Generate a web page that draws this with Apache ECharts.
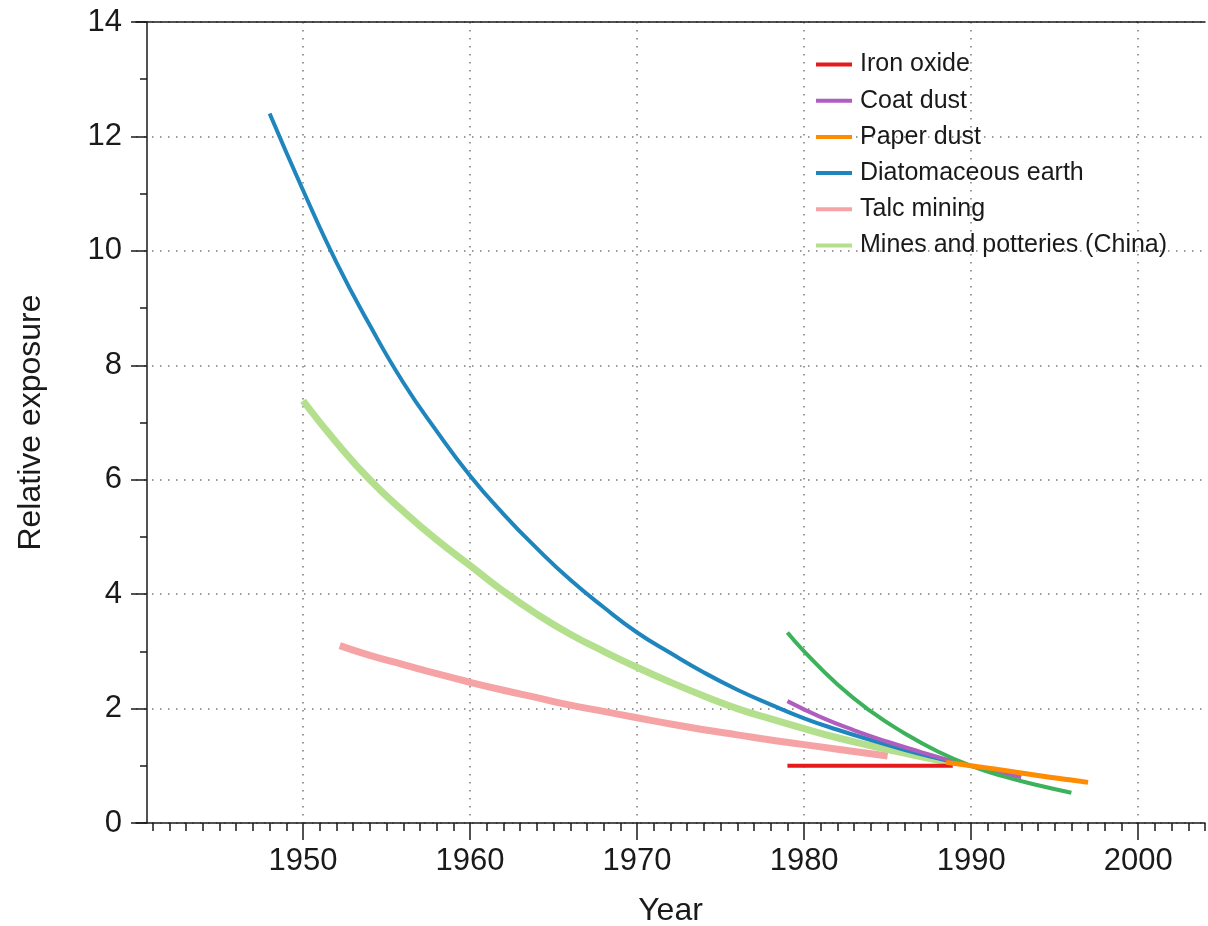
<!DOCTYPE html>
<html>
<head>
<meta charset="utf-8">
<script src="https://cdn.jsdelivr.net/npm/echarts@6/dist/echarts.min.js"></script>
<style>
  html, body { margin: 0; padding: 0; background: #fff; }
  #chart { width: 1208px; height: 926px; }
</style>
</head>
<body>
<div id="chart"></div>
<script>
// values: [year, relative exposure]
const ironOxide = [[1979, 1.0], [1988.9, 1.0]];
const coatDust = [[1979, 2.13], [1981, 1.85], [1983, 1.62], [1985, 1.42], [1987, 1.24], [1989, 1.07], [1991, 0.93], [1993, 0.8]];
const paperDust = [[1988.5, 1.06], [1990, 1.0], [1992, 0.92], [1994, 0.83], [1996, 0.75], [1997, 0.71]];
const diatomaceous = [[1948, 12.4], [1950, 11.06], [1952, 9.8], [1954, 8.7], [1956, 7.7], [1958, 6.85], [1960, 6.07], [1962, 5.4], [1964, 4.8], [1966, 4.25], [1968, 3.77], [1970, 3.33], [1972, 2.97], [1974, 2.63], [1976, 2.33], [1978, 2.07], [1980, 1.83], [1982, 1.63], [1984, 1.45], [1986, 1.28], [1988, 1.13], [1989, 1.06]];
const talcMining = [[1952.2, 3.1], [1954, 2.93], [1956, 2.77], [1958, 2.61], [1960, 2.46], [1962, 2.32], [1964, 2.19], [1966, 2.06], [1968, 1.95], [1970, 1.84], [1972, 1.73], [1974, 1.63], [1976, 1.54], [1978, 1.45], [1980, 1.37], [1982, 1.29], [1984, 1.21], [1985, 1.17]];
const minesPotteries = [[1950, 7.38], [1952, 6.65], [1954, 6.0], [1956, 5.45], [1958, 4.95], [1960, 4.5], [1962, 4.05], [1964, 3.65], [1966, 3.3], [1968, 3.0], [1970, 2.72], [1972, 2.46], [1974, 2.22], [1976, 2.0], [1978, 1.82], [1980, 1.65], [1982, 1.49], [1984, 1.35], [1986, 1.22], [1988, 1.1], [1988.5, 1.08]];
const unlabelled = [[1979, 3.33], [1980, 3.0], [1982, 2.42], [1984, 1.95], [1986, 1.57], [1988, 1.25], [1990, 1.0], [1992, 0.81], [1994, 0.66], [1996, 0.53]];

const legendNames = ['Iron oxide', 'Coat dust', 'Paper dust', 'Diatomaceous earth', 'Talc mining', 'Mines and potteries (China)'];
const majorYears = [1950, 1960, 1970, 1980, 1990, 2000];
const minorYears = [];
for (let y = 1941; y <= 2004; y++) {
  if (y % 10 !== 0) minorYears.push(y);
}

const font = '"Liberation Sans", Arial, Helvetica, sans-serif';
const ink = '#1a1a1a';
const dotted = { color: '#7a7a7a', width: 1.5, type: [1.5, 6.5] };

function curve(name, data, color, width) {
  return {
    name: name,
    type: 'line',
    data: data,
    smooth: true,
    showSymbol: false,
    silent: true,
    itemStyle: { color: color },
    lineStyle: { color: color, width: width, cap: 'butt' }
  };
}

let myChart = echarts.init(document.getElementById('chart'));
myChart.setOption({
  animation: false,
  grid: { left: 136, right: 3, top: 22, bottom: 103, outerBoundsMode: 'none', containLabel: false },
  legend: {
    data: legendNames,
    orient: 'vertical',
    left: 811,
    top: 47,
    icon: 'rect',
    itemWidth: 36,
    itemHeight: 4,
    itemGap: 11.2,
    itemStyle: { borderWidth: 0 },
    textStyle: { fontFamily: font, fontSize: 25, color: ink, padding: [0, 0, 0, 3] }
  },
  xAxis: [
    {
      type: 'value',
      min: 1940,
      max: 2004,
      position: 'bottom',
      name: 'Year',
      nameLocation: 'middle',
      nameGap: 72,
      nameTextStyle: { fontFamily: font, fontSize: 32, color: ink },
      axisLine: { lineStyle: { color: ink, width: 1.5 } },
      axisTick: { customValues: majorYears, length: 17, lineStyle: { color: ink, width: 1.5 } },
      axisLabel: {
        customValues: majorYears,
        margin: 23,
        fontFamily: font,
        fontSize: 31,
        color: ink,
        formatter: function (v) { return String(v); }
      },
      splitLine: { show: true, lineStyle: dotted }
    },
    {
      type: 'value',
      min: 1940,
      max: 2004,
      position: 'bottom',
      axisLine: { show: false },
      axisTick: { customValues: minorYears, length: 8, lineStyle: { color: ink, width: 1.5 } },
      axisLabel: { show: false },
      splitLine: { show: false }
    },
    {
      type: 'value',
      min: 1940,
      max: 2004,
      position: 'top',
      axisLine: { lineStyle: { color: ink, width: 1.5 } },
      axisTick: { show: false },
      axisLabel: { show: false },
      splitLine: { show: false }
    }
  ],
  yAxis: {
    type: 'value',
    min: 0,
    max: 14,
    interval: 2,
    offset: -11,
    name: 'Relative exposure',
    nameLocation: 'middle',
    nameGap: 100,
    nameTextStyle: { fontFamily: font, fontSize: 32, color: ink },
    axisLine: { show: true, lineStyle: { color: ink, width: 1.5 } },
    axisTick: { show: true, length: 16, lineStyle: { color: ink, width: 1.5 } },
    minorTick: { show: true, splitNumber: 2, length: 7, lineStyle: { color: ink, width: 1.5 } },
    axisLabel: { margin: 25, fontFamily: font, fontSize: 31, color: ink },
    splitLine: { show: true, lineStyle: dotted }
  },
  series: [
    curve('Talc mining', talcMining, '#f6a3a6', 7),
    curve('Mines and potteries (China)', minesPotteries, '#b4e08e', 7),
    curve('Diatomaceous earth', diatomaceous, '#1f86bd', 4),
    curve('Iron oxide', ironOxide, '#e41a1c', 4),
    curve('Coat dust', coatDust, '#b05dc0', 4),
    curve('Other', unlabelled, '#3cb35a', 4),
    curve('Paper dust', paperDust, '#ff8c00', 5)
  ]
});
</script>
</body>
</html>
